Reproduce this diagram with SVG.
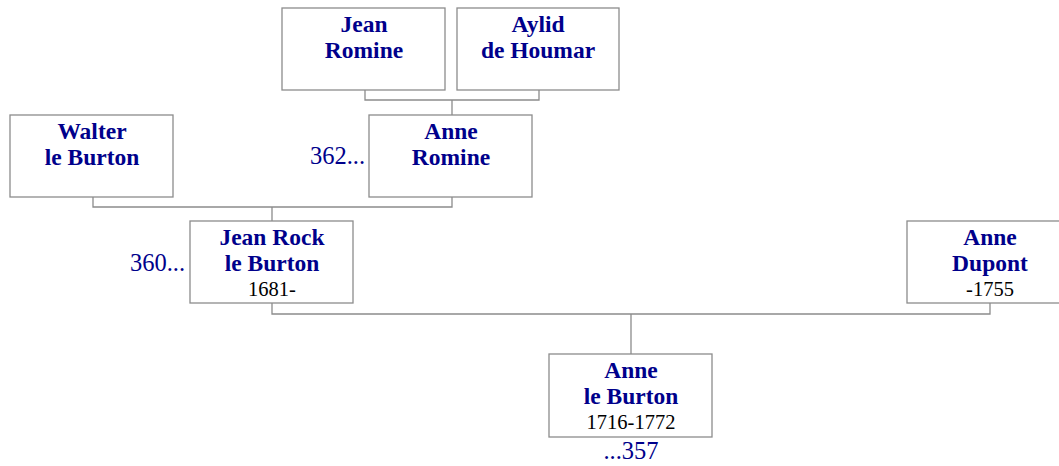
<svg xmlns="http://www.w3.org/2000/svg" width="1059" height="466" viewBox="0 0 1059 466">
<style>
.box{fill:#fff;stroke:#8c8c8c;stroke-width:1.3}
.n{font-family:"Liberation Serif",serif;font-weight:bold;font-size:23.5px;fill:#00008b;text-anchor:middle}
.d{font-family:"Liberation Serif",serif;font-size:20.5px;fill:#000;text-anchor:middle}
.r{font-family:"Liberation Serif",serif;font-size:24.5px;fill:#00008b}
.c{fill:none;stroke:#8c8c8c;stroke-width:1.3}
</style>
<rect width="1059" height="466" fill="#fff"/>
<g id="connectors">
<path class="c" d="M365 90V100H539V90M452 100V115"/>
<path class="c" d="M93 197V207H452V197M272 207V221"/>
<path class="c" d="M272 303V314H990V303M631 314V354"/>
</g>
<g id="jean-romine"><rect class="box" x="282" y="8" width="163" height="82"/><text class="n" x="364" y="32">Jean</text><text class="n" x="364" y="58">Romine</text></g>
<g id="aylid"><rect class="box" x="457" y="8" width="162" height="82"/><text class="n" x="538" y="32">Aylid</text><text class="n" x="538" y="58">de Houmar</text></g>
<g id="walter"><rect class="box" x="10" y="115" width="163" height="82"/><text class="n" x="92" y="139">Walter</text><text class="n" x="92" y="165">le Burton</text></g>
<g id="anne-romine"><rect class="box" x="369" y="115" width="163" height="82"/><text class="n" x="451" y="139">Anne</text><text class="n" x="451" y="165">Romine</text><text class="r" x="365" y="164" text-anchor="end">362...</text></g>
<g id="jean-rock"><rect class="box" x="190" y="221" width="163" height="82"/><text class="n" x="272" y="245">Jean Rock</text><text class="n" x="272" y="271">le Burton</text><text class="d" x="272" y="296">1681-</text><text class="r" x="185" y="271" text-anchor="end">360...</text></g>
<g id="anne-dupont"><rect class="box" x="907" y="221" width="163" height="82"/><text class="n" x="990" y="245">Anne</text><text class="n" x="990" y="271">Dupont</text><text class="d" x="990" y="296">-1755</text></g>
<g id="anne-le-burton"><rect class="box" x="549" y="354" width="163" height="83"/><text class="n" x="631" y="378">Anne</text><text class="n" x="631" y="404">le Burton</text><text class="d" x="631" y="429">1716-1772</text><text class="r" x="631" y="459" text-anchor="middle">...357</text></g>
</svg>
